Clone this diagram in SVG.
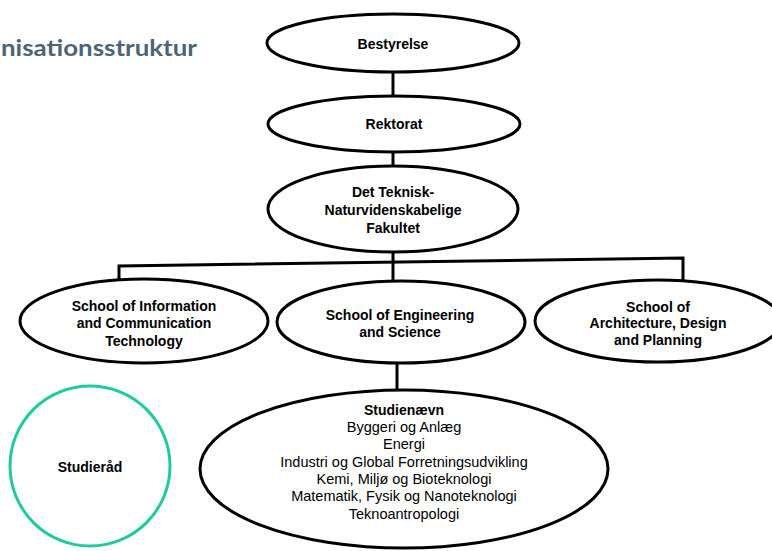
<svg xmlns="http://www.w3.org/2000/svg" width="772" height="551" viewBox="0 0 772 551">
<style>
.node{fill:#fff;stroke:#000;stroke-width:3}
.teal{fill:#fff;stroke:#1ecba0;stroke-width:3}
.conn{fill:none;stroke:#000;stroke-width:3}
.b{font-family:"Liberation Sans",Arial,sans-serif;font-weight:bold;font-size:14px;text-anchor:middle;fill:#000}
.n{font-family:"Liberation Sans",Arial,sans-serif;font-size:14.5px;text-anchor:middle;fill:#000}
.title{font-family:Lato,"Open Sans",sans-serif;font-weight:bold;font-size:23px;fill:#4d6476}
</style>
<rect width="772" height="551" fill="#fff"/>
<text class="title" x="1" y="56" textLength="196" lengthAdjust="spacingAndGlyphs">nisationsstruktur</text>
<g id="connectors">
<line class="conn" x1="393" y1="72" x2="393" y2="96"/>
<line class="conn" x1="393" y1="152" x2="393" y2="166"/>
<line class="conn" x1="393" y1="252" x2="393" y2="282"/>
<polyline class="conn" points="119,280 119,266 683,258 683,281"/>
<line class="conn" x1="397" y1="363" x2="397" y2="390"/>
</g>
<g id="bestyrelse">
<ellipse class="node" cx="393" cy="43" rx="126" ry="29"/>
<text class="b" x="393" y="49">Bestyrelse</text>
</g>
<g id="rektorat">
<ellipse class="node" cx="394" cy="124" rx="126" ry="28"/>
<text class="b" x="394" y="129">Rektorat</text>
</g>
<g id="fakultet">
<ellipse class="node" cx="393" cy="209" rx="125" ry="43"/>
<text class="b" x="393" y="197">Det Teknisk-</text>
<text class="b" x="393" y="215">Naturvidenskabelige</text>
<text class="b" x="393" y="233">Fakultet</text>
</g>
<g id="ict">
<ellipse class="node" cx="144" cy="321" rx="124" ry="42"/>
<text class="b" x="144" y="311">School of Information</text>
<text class="b" x="144" y="328">and Communication</text>
<text class="b" x="144" y="346">Technology</text>
</g>
<g id="engineering">
<ellipse class="node" cx="401" cy="322" rx="124" ry="41"/>
<text class="b" x="400" y="320">School of Engineering</text>
<text class="b" x="400" y="337">and Science</text>
</g>
<g id="architecture">
<ellipse class="node" cx="658" cy="321" rx="123" ry="41"/>
<text class="b" x="658" y="312">School of</text>
<text class="b" x="658" y="328">Architecture, Design</text>
<text class="b" x="658" y="345">and Planning</text>
</g>
<g id="studierad">
<ellipse class="teal" cx="90" cy="466" rx="80" ry="80"/>
<text class="b" x="90" y="472">Studieråd</text>
</g>
<g id="studienaevn">
<ellipse class="node" cx="404" cy="469" rx="204" ry="79"/>
<text class="b" x="404" y="415">Studienævn</text>
<text class="n" x="404" y="432">Byggeri og Anlæg</text>
<text class="n" x="404" y="449">Energi</text>
<text class="n" x="404" y="467">Industri og Global Forretningsudvikling</text>
<text class="n" x="404" y="484">Kemi, Miljø og Bioteknologi</text>
<text class="n" x="404" y="501">Matematik, Fysik og Nanoteknologi</text>
<text class="n" x="404" y="519">Teknoantropologi</text>
</g>
</svg>
